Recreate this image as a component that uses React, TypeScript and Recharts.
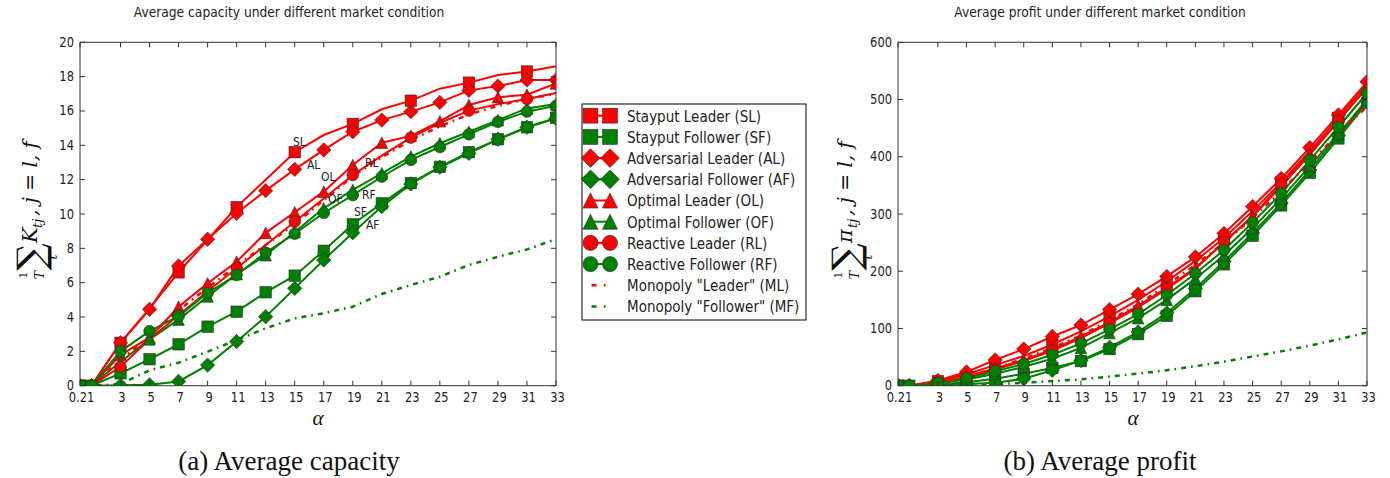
import React from 'react';
import { LineChart, Line, XAxis, YAxis, ReferenceDot } from 'recharts';

// ---------- data ----------
const alphaValues = [0.21, 1, 3, 5, 7, 9, 11, 13, 15, 17, 19, 21, 23, 25, 27, 29, 31, 33];
const alphaTicks = [0.21, 3, 5, 7, 9, 11, 13, 15, 17, 19, 21, 23, 25, 27, 29, 31, 33];
const capacityTicks = [0, 2, 4, 6, 8, 10, 12, 14, 16, 18, 20];
const profitTicks = [0, 100, 200, 300, 400, 500, 600];

// capacity
const capSL = [0, 0, 2.5, 4.5, 6.6, 8.5, 10.4, 12.0, 13.6, 14.6, 15.25, 16.1, 16.6, 17.3, 17.65, 18.1, 18.3, 18.6];
const capSF = [0, 0, 0.72, 1.54, 2.41, 3.44, 4.31, 5.44, 6.41, 7.86, 9.4, 10.62, 11.8, 12.75, 13.6, 14.35, 15.05, 15.6];
const capAL = [0, 0, 2.5, 4.45, 6.97, 8.53, 10.04, 11.36, 12.6, 13.73, 14.79, 15.47, 15.96, 16.5, 17.2, 17.45, 17.8, 17.8];
const capAF = [0, 0, 0.02, 0.05, 0.25, 1.2, 2.57, 4.02, 5.67, 7.32, 8.91, 10.43, 11.75, 12.72, 13.53, 14.35, 15.05, 15.57];
const capOL = [0, 0, 1.8, 2.8, 4.6, 5.96, 7.22, 8.9, 10.1, 11.3, 12.85, 14.15, 14.55, 15.4, 16.35, 16.8, 16.95, 17.6];
const capOF = [0, 0, 1.4, 2.7, 3.85, 5.2, 6.5, 7.6, 8.95, 10.33, 11.4, 12.37, 13.34, 14.12, 14.79, 15.47, 16.15, 16.4];
const capRL = [0, 0, 1.1, 2.7, 4.1, 5.5, 6.84, 8.2, 9.55, 10.9, 12.27, 13.4, 14.45, 15.3, 16.02, 16.4, 16.7, 17.05];
const capRF = [0, 0, 2.0, 3.18, 4.05, 5.4, 6.45, 7.75, 8.85, 10.06, 11.1, 12.17, 13.15, 13.9, 14.64, 15.37, 15.96, 16.3];
const capML = [0, 0, 1.5, 2.9, 4.4, 5.7, 7.0, 8.2, 9.4, 10.8, 12.2, 13.3, 14.3, 15.1, 15.8, 16.3, 16.7, 17.0];
const capMF = [0, 0, 0.1, 0.9, 1.34, 1.98, 2.66, 3.34, 3.92, 4.22, 4.6, 5.34, 5.86, 6.35, 7.03, 7.51, 7.94, 8.53];

// profit
const profSL = [0, 0, 8, 20, 36, 52, 72, 95, 121, 150, 182, 218, 258, 305, 355, 410, 468, 527];
const profSF = [0, 0, 2, 6, 12, 21, 31, 43, 64, 90, 122, 165, 212, 262, 315, 372, 432, 494];
const profAL = [0, 0, 9, 24, 45, 64, 86, 106, 133, 160, 191, 225, 266, 313, 362, 416, 473, 531];
const profAF = [0, 0, 1, 3, 5, 12, 27, 44, 67, 94, 127, 170, 217, 267, 319, 377, 437, 497];
const profOL = [0, 0, 6, 16, 30, 45, 63, 86, 111, 140, 171, 206, 250, 296, 348, 404, 462, 522];
const profOF = [0, 0, 4, 11, 21, 33, 47, 66, 92, 118, 150, 187, 228, 275, 327, 384, 440, 500];
const profRL = [0, 0, 5, 15, 28, 43, 61, 83, 109, 137, 169, 204, 251, 296, 352, 406, 463, 520];
const profRF = [0, 0, 5, 13, 25, 38, 54, 74, 98.5, 125, 158.5, 196, 237, 285, 336, 394, 452, 511];
const profML = [0, 0, 5, 15, 30, 47, 66, 88, 114, 142, 176, 211, 250, 293, 340, 390, 440, 488];
const profMF = [0, 0, 0.5, 1.5, 3, 5, 8, 11, 16, 21, 27, 34, 42, 51, 60, 70, 81, 93];

// series
const seriesKeys = ['SL', 'SF', 'AL', 'AF', 'OL', 'OF', 'RL', 'RF', 'ML', 'MF'];
const seriesNames = [
  'Stayput Leader (SL)',
  'Stayput Follower (SF)',
  'Adversarial Leader (AL)',
  'Adversarial Follower (AF)',
  'Optimal Leader (OL)',
  'Optimal Follower (OF)',
  'Reactive Leader (RL)',
  'Reactive Follower (RF)',
  'Monopoly "Leader" (ML)',
  'Monopoly "Follower" (MF)',
];

// annotations on the capacity chart (data coordinates)
const annotLabels = ['SL', 'AL', 'OL', 'RL', 'OF', 'RF', 'SF', 'AF'];
const annotX = [14.88, 15.84, 16.81, 19.84, 17.29, 19.63, 19.08, 19.91];
const annotY = [14.2, 12.91, 12.17, 12.99, 10.93, 11.11, 10.13, 9.36];

const capCols = [capSL, capSF, capAL, capAF, capOL, capOF, capRL, capRF, capML, capMF];
const profCols = [profSL, profSF, profAL, profAF, profOL, profOF, profRL, profRF, profML, profMF];

const buildRows = (cols: number[][]) =>
  alphaValues.map((a, i) => {
    const row: Record<string, number> = { alpha: a };
    seriesKeys.forEach((k, j) => {
      row[k] = cols[j][i];
    });
    return row;
  });

const capacityData = buildRows(capCols);
const profitData = buildRows(profCols);

// ---------- style ----------
const RED = '#ff0000';
const GREEN = '#008000';
const EDGE = '#2a2a2a';
const AXIS = '#333333';
const TXT = '#222222';
const SANS = '"DejaVu Sans", sans-serif';
const SERIF = '"DejaVu Serif", serif';
const VS = 1.2;

type Shape = 'square' | 'diamond' | 'triangle' | 'circle' | 'none';
const seriesStyle: { color: string; shape: Shape; every: number; dash: boolean }[] = [
  { color: RED, shape: 'square', every: 2, dash: false },
  { color: GREEN, shape: 'square', every: 1, dash: false },
  { color: RED, shape: 'diamond', every: 1, dash: false },
  { color: GREEN, shape: 'diamond', every: 1, dash: false },
  { color: RED, shape: 'triangle', every: 1, dash: false },
  { color: GREEN, shape: 'triangle', every: 1, dash: false },
  { color: RED, shape: 'circle', every: 2, dash: false },
  { color: GREEN, shape: 'circle', every: 1, dash: false },
  { color: RED, shape: 'none', every: 1, dash: true },
  { color: GREEN, shape: 'none', every: 1, dash: true },
];
const DASH = '5 5 1.7 5';

function marker(shape: Shape, cx: number, cy: number, color: string, k: number) {
  const sw = 0.6;
  if (shape === 'square') {
    const h = 5.7 * k;
    return <rect x={cx - h} y={cy - h} width={2 * h} height={2 * h} fill={color} stroke={EDGE} strokeWidth={sw} />;
  }
  if (shape === 'diamond') {
    const d = 7.2 * k;
    return (
      <polygon
        points={`${cx},${cy - d} ${cx + d},${cy} ${cx},${cy + d} ${cx - d},${cy}`}
        fill={color}
        stroke={EDGE}
        strokeWidth={sw}
      />
    );
  }
  if (shape === 'triangle') {
    const t = 5.8 * k;
    return (
      <polygon
        points={`${cx},${cy - t} ${cx + t},${cy + t} ${cx - t},${cy + t}`}
        fill={color}
        stroke={EDGE}
        strokeWidth={sw}
      />
    );
  }
  if (shape === 'circle') {
    return <circle cx={cx} cy={cy} r={5.8 * k} fill={color} stroke={EDGE} strokeWidth={sw} />;
  }
  return null;
}

const makeDot = (shape: Shape, color: string, every: number) => (props: any) => {
  const { cx, cy, index } = props;
  const key = `dot-${index}`;
  if (cx == null || cy == null || index % every !== 0) return <g key={key} />;
  return <g key={key}>{marker(shape, cx, cy, color, 1)}</g>;
};

// ---------- ticks ----------
const bottomTick = (p: any) => {
  const { x, y, payload } = p;
  return (
    <g>
      <line x1={x} x2={x} y1={y} y2={y - 5} stroke={AXIS} strokeWidth={1} />
      <text transform={`translate(${x + 1.5},${y + 16.5}) scale(1,${VS})`} textAnchor="middle" fontSize={11.5} fontFamily={SANS} fill={TXT}>
        {String(payload.value)}
      </text>
    </g>
  );
};
const topTick = (p: any) => {
  const { x, y } = p;
  return <line x1={x} x2={x} y1={y} y2={y + 5} stroke={AXIS} strokeWidth={1} />;
};
const leftTick = (p: any) => {
  const { x, y, payload } = p;
  return (
    <g>
      <line x1={x} x2={x + 5} y1={y} y2={y} stroke={AXIS} strokeWidth={1} />
      <text transform={`translate(${x - 6},${y + 4.5}) scale(1,${VS})`} textAnchor="end" fontSize={11.5} fontFamily={SANS} fill={TXT}>
        {String(payload.value)}
      </text>
    </g>
  );
};
const rightTick = (p: any) => {
  const { x, y } = p;
  return <line x1={x} x2={x - 5} y1={y} y2={y} stroke={AXIS} strokeWidth={1} />;
};

const annotShape = (label: string) => (p: any) => (
  <text transform={`translate(${p.cx},${p.cy + 4.5}) scale(1,${VS})`} fontSize={10.8} fontFamily={SANS} fill={TXT}>
    {label}
  </text>
);

// ---------- panel ----------
// axis boxes are 1px thick (an axis of size 0 is not drawn), margins compensate
function Panel(props: {
  data: Record<string, number>[];
  yTicks: number[];
  yMax: number;
  width: number;
  marginLeft: number;
  marginRight: number;
  annotate: boolean;
}) {
  const { data, yTicks, yMax, width, marginLeft, marginRight, annotate } = props;
  return (
    <LineChart
      width={width}
      height={478}
      data={data}
      margin={{ top: 41.3, right: marginRight - 1, bottom: 91.3, left: marginLeft - 1 }}
    >
      <XAxis
        xAxisId="b"
        dataKey="alpha"
        type="number"
        domain={[0.21, 33]}
        ticks={alphaTicks}
        interval={0}
        allowDataOverflow
        height={1}
        tickSize={0}
        tickMargin={0}
        tick={bottomTick}
        axisLine={{ stroke: AXIS, strokeWidth: 1 }}
        tickLine={false}
      />
      <XAxis
        xAxisId="t"
        orientation="top"
        dataKey="alpha"
        type="number"
        domain={[0.21, 33]}
        ticks={alphaTicks}
        interval={0}
        allowDataOverflow
        height={1}
        tickSize={0}
        tickMargin={0}
        tick={topTick}
        axisLine={{ stroke: AXIS, strokeWidth: 1 }}
        tickLine={false}
      />
      <YAxis
        yAxisId="l"
        type="number"
        domain={[0, yMax]}
        ticks={yTicks}
        interval={0}
        allowDataOverflow
        width={1}
        tickSize={0}
        tickMargin={0}
        tick={leftTick}
        axisLine={{ stroke: AXIS, strokeWidth: 1 }}
        tickLine={false}
      />
      <YAxis
        yAxisId="r"
        orientation="right"
        type="number"
        domain={[0, yMax]}
        ticks={yTicks}
        interval={0}
        allowDataOverflow
        width={1}
        tickSize={0}
        tickMargin={0}
        tick={rightTick}
        axisLine={{ stroke: AXIS, strokeWidth: 1 }}
        tickLine={false}
      />
      {seriesKeys.map((k, i) => {
        const st = seriesStyle[i];
        return (
          <Line
            key={k}
            xAxisId="b"
            yAxisId="l"
            type="linear"
            dataKey={k}
            stroke={st.color}
            strokeWidth={st.dash ? 2.5 : 2}
            strokeDasharray={st.dash ? DASH : undefined}
            dot={st.shape === 'none' ? false : makeDot(st.shape, st.color, st.every)}
            activeDot={false}
            isAnimationActive={false}
          />
        );
      })}
      {annotate &&
        annotLabels.map((lab, i) => (
          <ReferenceDot
            key={lab}
            xAxisId="b"
            yAxisId="l"
            x={annotX[i]}
            y={annotY[i]}
            r={0}
            ifOverflow="visible"
            shape={annotShape(lab)}
          />
        ))}
    </LineChart>
  );
}

// ---------- overlay pieces ----------
function YLabel({ cx, cy, sym }: { cx: number; cy: number; sym: string }) {
  const s = 6;
  return (
    <g transform={`translate(${cx},${cy}) rotate(-90)`} fontFamily={SERIF} fill="#111">
      <text x={-68 + s} y={-4} fontSize={11} textAnchor="middle">1</text>
      <text x={-68 + s} y={13} fontSize={12.5} fontStyle="italic" textAnchor="middle">T</text>
      <text x={-50 + s} y={13} fontSize={38} textAnchor="middle">∑</text>
      <text x={-50 + s} y={26} fontSize={12} fontStyle="italic" textAnchor="middle">t</text>
      <text x={-36 + s} y={6} fontSize={21} fontStyle="italic">{sym}</text>
      <text x={-21 + s} y={11} fontSize={13} fontStyle="italic">tj</text>
      <text x={-9 + s} y={6} fontSize={20} fontStyle="italic">, j = l, f</text>
    </g>
  );
}

function LegendBox() {
  const x0 = 582;
  const y0 = 104;
  const rowY = (i: number) => 115.7 + i * 21.2;
  return (
    <g>
      <rect x={x0} y={y0} width={224} height={216} fill="#ffffff" stroke="#000" strokeWidth={1} />
      {seriesNames.map((name, i) => {
        const st = seriesStyle[i];
        const y = rowY(i);
        return (
          <g key={name}>
            {st.dash ? (
              <line x1={591.5} x2={607} y1={y} y2={y} stroke={st.color} strokeWidth={2.5} strokeDasharray="5 7.3 1.7 20" />
            ) : (
              <g>
                <line x1={590.5} x2={610} y1={y} y2={y} stroke={st.color} strokeWidth={2} />
                {marker(st.shape, 590.5, y, st.color, 1.3)}
                {marker(st.shape, 610, y, st.color, 1.3)}
              </g>
            )}
            <text transform={`translate(627,${y + 5.8}) scale(1,${VS})`} fontSize={13.5} fontFamily={SANS} fill={TXT}>
              {name}
            </text>
          </g>
        );
      })}
    </g>
  );
}

export default function App() {
  return (
    <div style={{ position: 'absolute', left: 0, top: 0, width: 1390, height: 478, background: '#fff', overflow: 'hidden' }}>
      <div style={{ position: 'absolute', left: 0, top: 0 }}>
        <Panel data={capacityData} yTicks={capacityTicks} yMax={20} width={600} marginLeft={80} marginRight={44} annotate />
      </div>
      <div style={{ position: 'absolute', left: 800, top: 0 }}>
        <Panel data={profitData} yTicks={profitTicks} yMax={600} width={590} marginLeft={98} marginRight={23} annotate={false} />
      </div>
      <svg width={1390} height={478} style={{ position: 'absolute', left: 0, top: 0, pointerEvents: 'none' }}>
        <text transform={`translate(289,17) scale(1,${VS})`} textAnchor="middle" fontSize={12.3} fontFamily={SANS} fill={TXT}>
          Average capacity under different market condition
        </text>
        <text transform={`translate(1100,17) scale(1,${VS})`} textAnchor="middle" fontSize={12.3} fontFamily={SANS} fill={TXT}>
          Average profit under different market condition
        </text>
        <YLabel cx={31} cy={213} sym="K" />
        <YLabel cx={846} cy={213} sym="π" />
        <text x={318} y={425} textAnchor="middle" fontSize={21} fontStyle="italic" fontFamily='"Liberation Serif", serif' fill="#111">α</text>
        <text x={1133} y={425} textAnchor="middle" fontSize={21} fontStyle="italic" fontFamily='"Liberation Serif", serif' fill="#111">α</text>
        <text x={289} y={470} textAnchor="middle" fontSize={27} fontFamily='"Liberation Serif", serif' fill="#111">(a) Average capacity</text>
        <text x={1100} y={470} textAnchor="middle" fontSize={27} fontFamily='"Liberation Serif", serif' fill="#111">(b) Average profit</text>
        <LegendBox />
      </svg>
    </div>
  );
}
